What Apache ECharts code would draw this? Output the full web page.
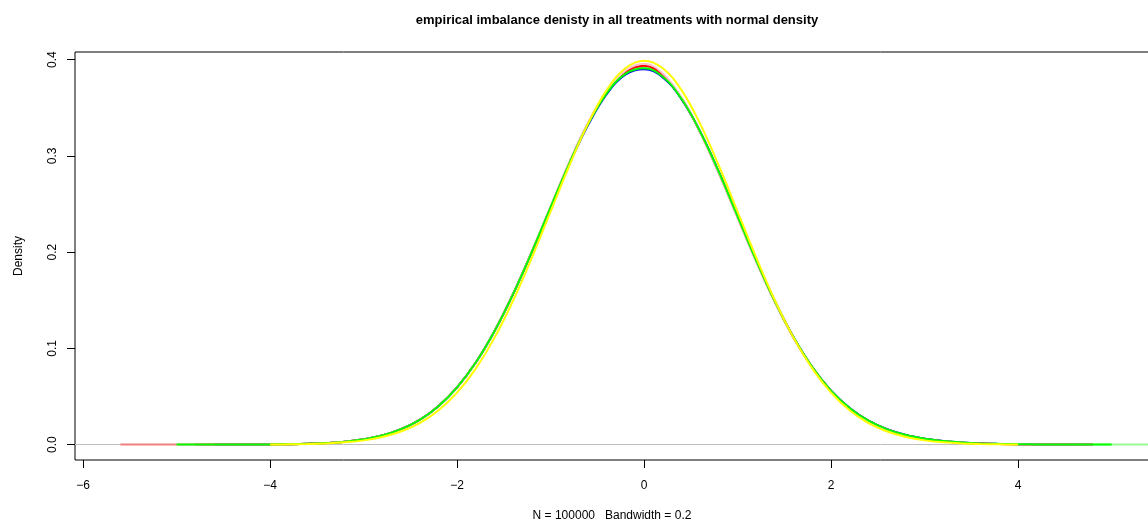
<!DOCTYPE html>
<html>
<head>
<meta charset="utf-8">
<script src="https://cdn.jsdelivr.net/npm/echarts@6/dist/echarts.min.js"></script>
<style>
html, body { margin: 0; padding: 0; background: #fff; }
#main { width: 1148px; height: 527px; }
</style>
</head>
<body>
<div id="main"></div>
<script>
// x grid, -5.6 .. 5.4 step 0.2
var xs = [-5.6, -5.4, -5.2, -5.0, -4.8, -4.6, -4.4, -4.2, -4.0, -3.8,
    -3.6, -3.4, -3.2, -3.0, -2.8, -2.6, -2.4, -2.2, -2.0, -1.8,
    -1.6, -1.4, -1.2, -1.0, -0.8, -0.6, -0.4, -0.2, 0.0, 0.2,
    0.4, 0.6, 0.8, 1.0, 1.2, 1.4, 1.6, 1.8, 2.0, 2.2,
    2.4, 2.6, 2.8, 3.0, 3.2, 3.4, 3.6, 3.8, 4.0, 4.2,
    4.4, 4.6, 4.8, 5.0, 5.2, 5.4];

var xTicks = [-6, -4, -2, 0, 2, 4];
var yTicks = [0, 0.1, 0.2, 0.3, 0.4];

var coralY = [0.0000, 0.0000, 0.0000, 0.0000, 0.0000, 0.0000, 0.0000, 0.0001, 0.0002, 0.0004,
    0.0008, 0.0016, 0.0030, 0.0055, 0.0095, 0.0160, 0.0257, 0.0399, 0.0595, 0.0853,
    0.1178, 0.1566, 0.2003, 0.2465, 0.2922, 0.3332, 0.3656, 0.3860, 0.3920, 0.3830,
    0.3597, 0.3250, 0.2828, 0.2368, 0.1910, 0.1485, 0.1111, 0.0801, 0.0557, 0.0377,
    0.0247, 0.0157, 0.0098, 0.0060, 0.0036, 0.0020, 0.0011, 0.0006, 0.0003, 0.0001,
    0.0000, 0.0000, null, null, null, null];

var paleY = [null, null, null, null, null, 0.0000, 0.0000, 0.0001, 0.0002, 0.0004,
    0.0008, 0.0016, 0.0030, 0.0055, 0.0095, 0.0160, 0.0257, 0.0399, 0.0595, 0.0853,
    0.1178, 0.1566, 0.2003, 0.2465, 0.2920, 0.3327, 0.3649, 0.3851, 0.3910, 0.3821,
    0.3593, 0.3251, 0.2831, 0.2372, 0.1913, 0.1486, 0.1112, 0.0802, 0.0558, 0.0378,
    0.0248, 0.0158, 0.0099, 0.0061, 0.0037, 0.0021, 0.0012, 0.0007, 0.0004, 0.0002,
    0.0001, 0.0000, 0.0000, 0.0000, 0.0000, 0.0000];

var blueY = [null, null, null, null, null, 0.0000, 0.0000, 0.0001, 0.0002, 0.0004,
    0.0008, 0.0016, 0.0030, 0.0055, 0.0095, 0.0160, 0.0257, 0.0399, 0.0595, 0.0853,
    0.1178, 0.1566, 0.2000, 0.2460, 0.2912, 0.3318, 0.3640, 0.3843, 0.3900, 0.3815,
    0.3590, 0.3251, 0.2833, 0.2375, 0.1916, 0.1489, 0.1114, 0.0803, 0.0559, 0.0379,
    0.0249, 0.0159, 0.0100, 0.0062, 0.0038, 0.0022, 0.0012, 0.0007, 0.0004, 0.0002,
    0.0001, 0.0000, 0.0000, null, null, null];

var redY = [null, null, null, null, 0.0000, 0.0000, 0.0000, 0.0001, 0.0002, 0.0004,
    0.0008, 0.0016, 0.0030, 0.0055, 0.0095, 0.0160, 0.0257, 0.0399, 0.0594, 0.0852,
    0.1178, 0.1567, 0.2005, 0.2468, 0.2926, 0.3336, 0.3660, 0.3870, 0.3935, 0.3840,
    0.3600, 0.3245, 0.2820, 0.2362, 0.1905, 0.1480, 0.1108, 0.0800, 0.0556, 0.0376,
    0.0246, 0.0156, 0.0097, 0.0059, 0.0035, 0.0020, 0.0011, 0.0006, 0.0003, 0.0001,
    0.0000, 0.0000, 0.0000, null, null, null];

var pinkY = [null, null, null, 0.0000, 0.0000, 0.0000, 0.0000, 0.0001, 0.0002, 0.0004,
    0.0008, 0.0016, 0.0030, 0.0055, 0.0095, 0.0160, 0.0257, 0.0399, 0.0594, 0.0852,
    0.1178, 0.1568, 0.2007, 0.2472, 0.2932, 0.3345, 0.3668, 0.3885, 0.3958, 0.3855,
    0.3605, 0.3243, 0.2815, 0.2358, 0.1902, 0.1478, 0.1106, 0.0798, 0.0555, 0.0375,
    0.0245, 0.0155, 0.0096, 0.0058, 0.0034, 0.0019, 0.0010, 0.0005, 0.0003, 0.0001,
    0.0000, 0.0000, 0.0000, null, null, null];

var greenY = [null, null, null, 0.0000, 0.0000, 0.0000, 0.0000, 0.0001, 0.0002, 0.0004,
    0.0008, 0.0016, 0.0030, 0.0055, 0.0095, 0.0160, 0.0257, 0.0399, 0.0595, 0.0853,
    0.1178, 0.1566, 0.2003, 0.2465, 0.2920, 0.3327, 0.3649, 0.3851, 0.3910, 0.3821,
    0.3593, 0.3251, 0.2831, 0.2372, 0.1913, 0.1486, 0.1112, 0.0802, 0.0558, 0.0378,
    0.0248, 0.0158, 0.0099, 0.0061, 0.0037, 0.0021, 0.0012, 0.0007, 0.0004, 0.0002,
    0.0001, 0.0000, 0.0000, 0.0000, null, null];

// normal density
var yellowY = [null, null, null, null, null, null, null, null, 0.0001, 0.0003,
    0.0006, 0.0012, 0.0024, 0.0044, 0.0079, 0.0136, 0.0224, 0.0355, 0.0540, 0.0790,
    0.1109, 0.1497, 0.1942, 0.2420, 0.2897, 0.3332, 0.3683, 0.3910, 0.3989, 0.3910,
    0.3683, 0.3332, 0.2897, 0.2420, 0.1942, 0.1497, 0.1109, 0.0790, 0.0540, 0.0355,
    0.0224, 0.0136, 0.0079, 0.0044, 0.0024, 0.0012, 0.0006, 0.0003, 0.0001, null,
    null, null, null, null, null, null];

function pairs(ys) {
    var out = [];
    for (var i = 0; i < xs.length; i++) {
        if (ys[i] !== null) out.push([xs[i], ys[i]]);
    }
    return out;
}

function line(name, color, ys) {
    return {
        name: name,
        type: 'line',
        data: pairs(ys),
        smooth: 0.4,
        symbol: 'none',
        lineStyle: { color: color, width: 2 },
        z: 3
    };
}

var font = 'Liberation Sans, Arial, Helvetica, sans-serif';

var chart = echarts.init(document.getElementById('main'));
var series = [
    line('a', '#F08080', coralY),
    line('b', '#98FB98', paleY),
    line('c', '#0000FF', blueY),
    line('d', '#FF0000', redY),
    line('e', '#FFC0CB', pinkY),
    line('f', '#00FF00', greenY),
    line('normal', '#FFFF00', yellowY)
];
// zero line (abline h = 0)
series[0].markLine = {
    silent: true,
    symbol: 'none',
    label: { show: false },
    lineStyle: { color: '#BEBEBE', width: 1, type: 'solid' },
    data: [{ yAxis: 0 }],
    z: 1
};

chart.setOption({
    animation: false,
    backgroundColor: '#fff',
    title: {
        text: 'empirical imbalance denisty in all treatments with normal density',
        left: 612,
        textAlign: 'center',
        top: 9,
        textStyle: { fontFamily: font, fontWeight: 'bold', fontSize: 13, color: '#000' }
    },
    grid: {
        left: 75,
        top: 52,
        right: -1,
        bottom: 67,
        outerBoundsMode: 'none',
        containLabel: false,
        show: true,
        borderColor: '#000',
        borderWidth: 1,
        backgroundColor: 'transparent'
    },
    xAxis: {
        type: 'value',
        min: -6.086,
        max: 5.4,
        name: 'N = 100000   Bandwidth = 0.2',
        nameLocation: 'middle',
        nameGap: 50,
        nameTextStyle: { fontFamily: font, fontSize: 12, color: '#000' },
        splitLine: { show: false },
        axisLine: { show: false, onZero: false },
        axisTick: { show: true, inside: false, length: 8, customValues: xTicks, lineStyle: { color: '#000' } },
        axisLabel: {
            customValues: xTicks,
            margin: 20,
            fontFamily: font,
            fontSize: 12,
            color: '#000',
            formatter: function (v) { return String(v).replace('-', '\u2212'); }
        }
    },
    yAxis: {
        type: 'value',
        min: -0.016,
        max: 0.4079,
        name: 'Density',
        nameLocation: 'middle',
        nameGap: 50,
        nameRotate: 90,
        nameTextStyle: { fontFamily: font, fontSize: 12, color: '#000' },
        splitLine: { show: false },
        axisLine: { show: false, onZero: false },
        axisTick: { show: true, inside: false, length: 8, customValues: yTicks, lineStyle: { color: '#000' } },
        axisLabel: {
            customValues: yTicks,
            rotate: 90,
            margin: 16,
            fontFamily: font,
            fontSize: 12,
            color: '#000',
            formatter: function (v) { return v.toFixed(1); }
        }
    },
    series: series
});
</script>
</body>
</html>
